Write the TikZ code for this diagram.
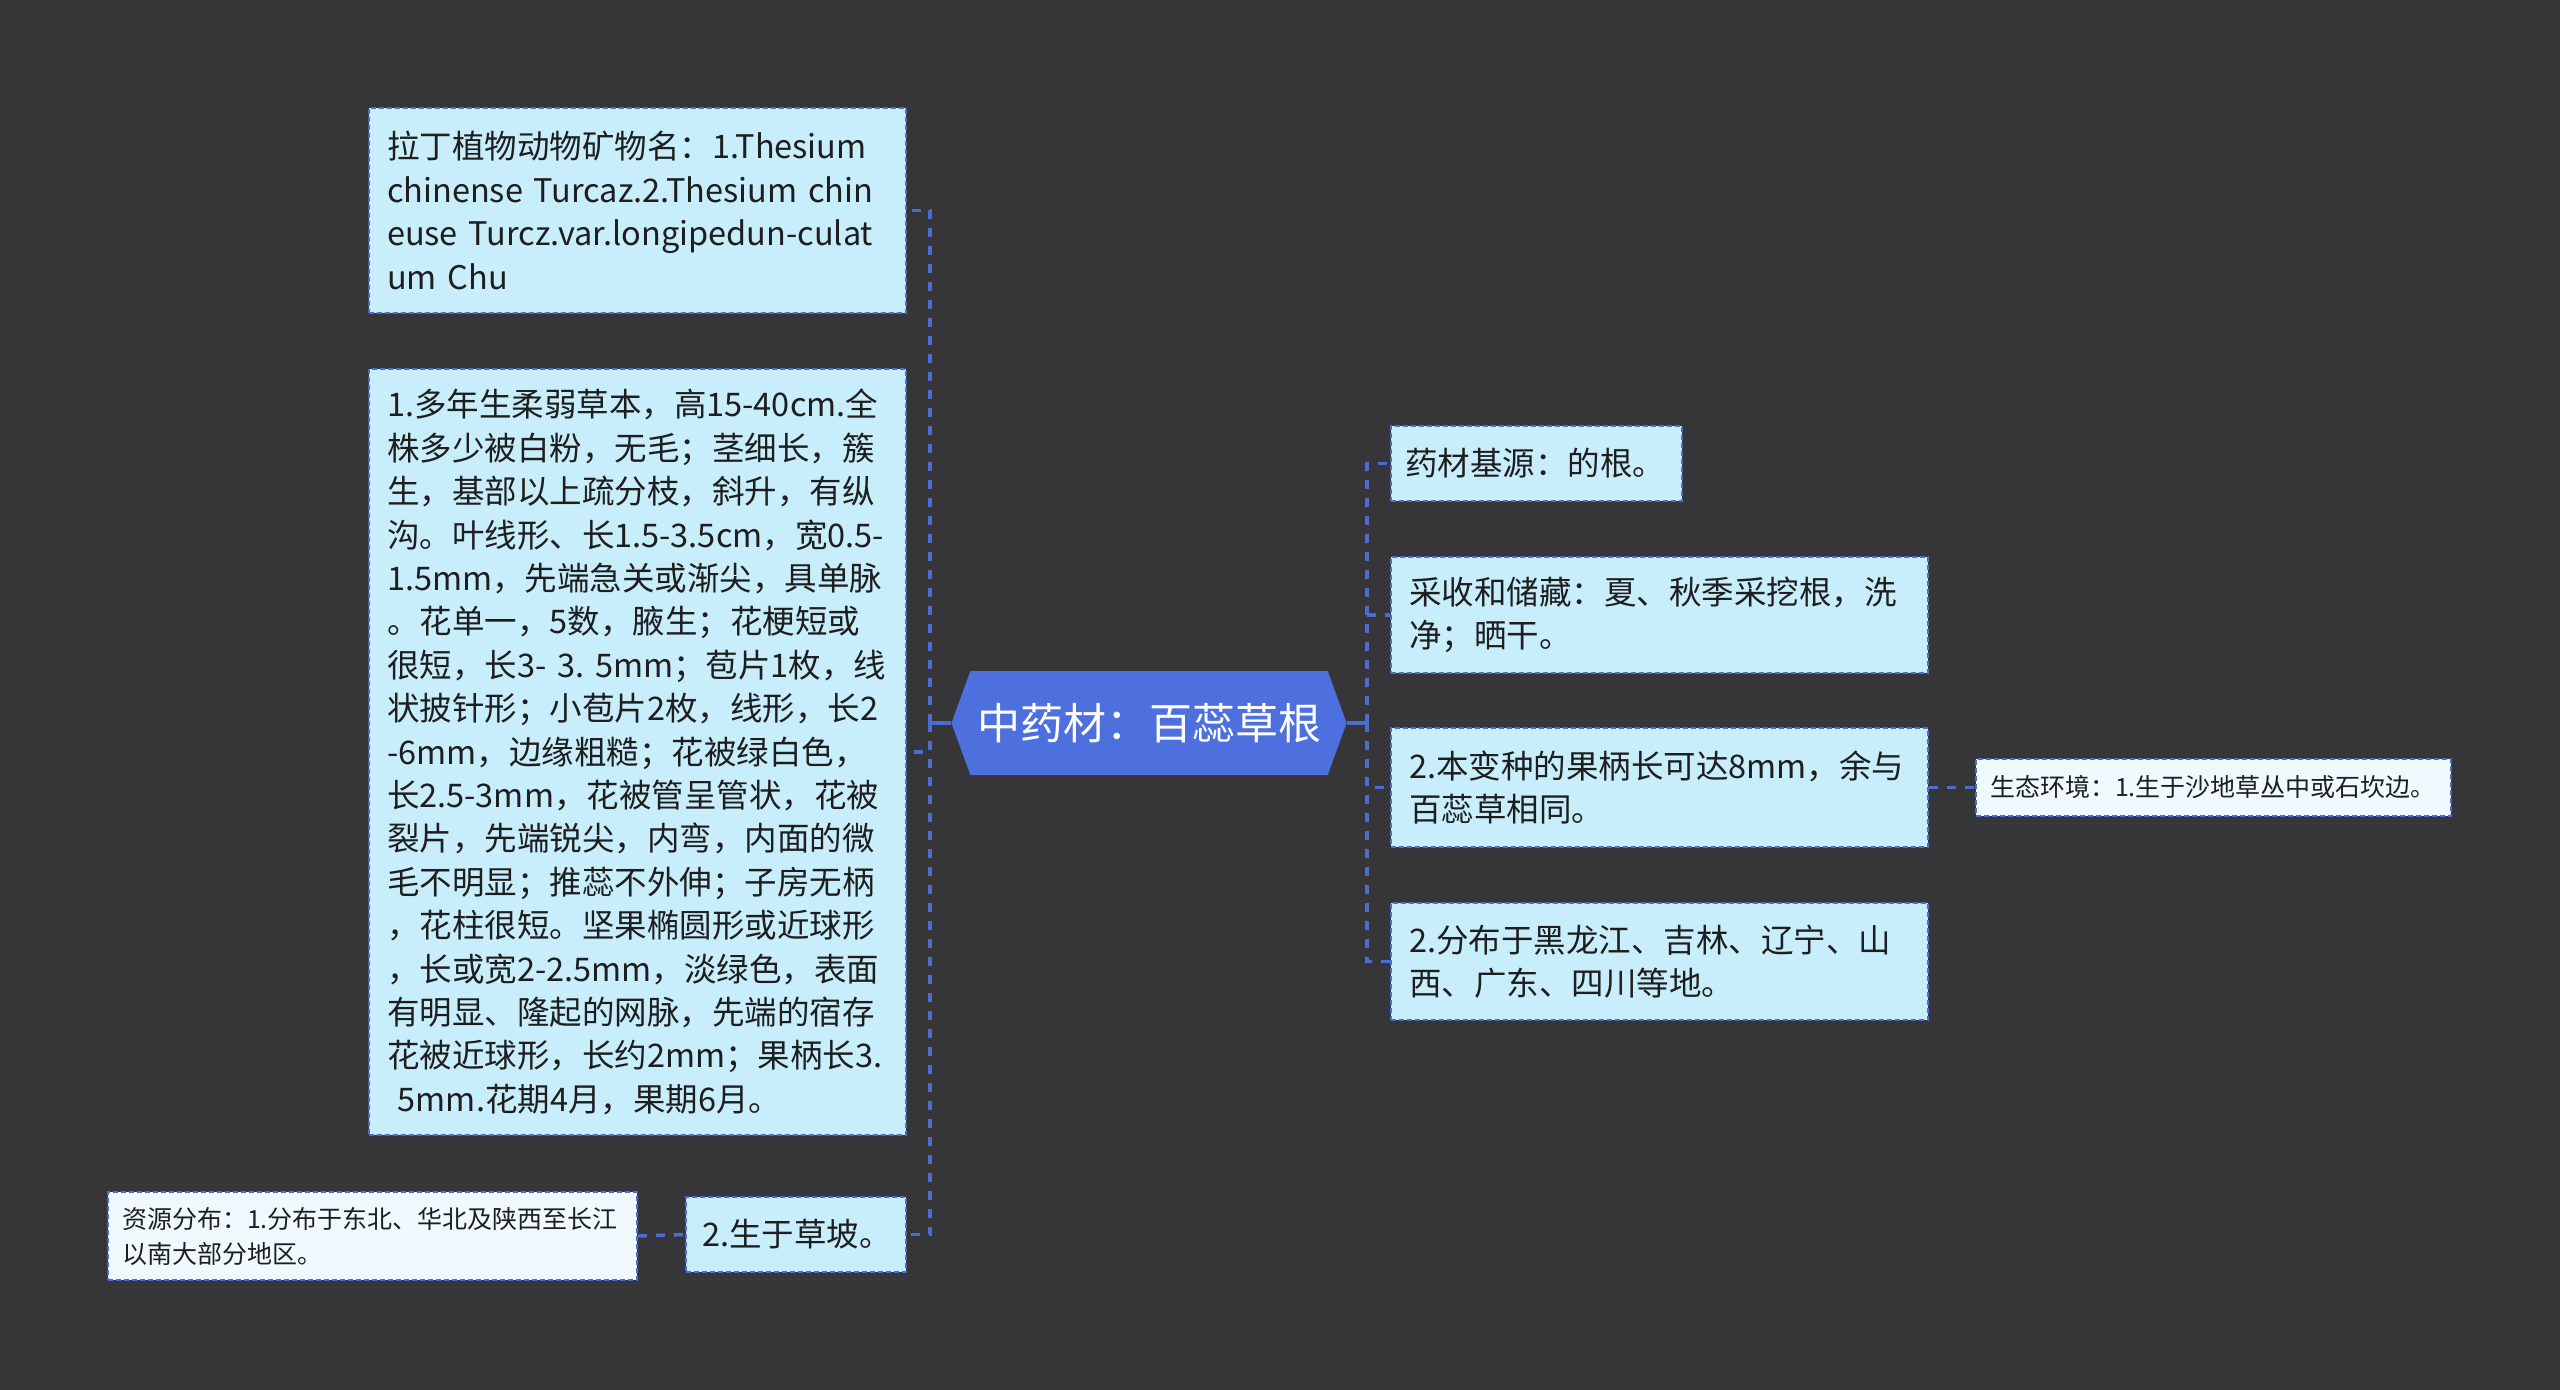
\documentclass[tikz,border=0pt]{standalone}
\usepackage{fontspec}
\setmainfont{Noto Sans CJK SC}
\usepackage{tikz}
\usetikzlibrary{shapes.symbols}
\definecolor{bg}{RGB}{54,53,55}
\definecolor{boxfill}{RGB}{200,238,252}
\definecolor{leaffill}{RGB}{240,250,254}
\definecolor{edge}{RGB}{74,108,212}
\definecolor{rootfill}{RGB}{77,112,222}
\definecolor{ink}{RGB}{30,30,30}

\begin{document}
\begin{tikzpicture}[x=0.5pt, y=-0.5pt,
    main/.style = {draw=edge, fill=boxfill, line width=0.8pt, dash pattern=on 2.5pt off 1.5pt, text=ink, align=left, inner xsep=9pt, font=\fontsize{16.25pt}{21.7pt}\selectfont},
    leaf/.style = {main, fill=leaffill, inner xsep=7pt, font=\fontsize{12.5pt}{17.5pt}\selectfont},
    root/.style = {signal, signal to=west and east, signal pointer angle=140, fill=rootfill, text=white, font=\fontsize{21.5pt}{26pt}\selectfont, minimum width=197pt, minimum height=52pt},
    link/.style = {draw=edge, line width=1.7pt, dash pattern=on 4.5pt off 4.5pt}]

    \fill[bg] (0,0) rectangle (2560,1390);

    \node[root] (0) at (1149,723) {中药材：百蕊草根};

    % left side
    \node[main, text width=250.5pt, minimum height=102.5pt] (1) at (637.5,210.5) {拉丁植物动物矿物名：1.Thesium\\chinense~Turcaz.2.Thesium~chin\\euse~Turcz.var.longipedun-culat\\um~Chu};
    \node[main, text width=250.5pt, minimum height=383pt] (2) at (637.5,752) {1.多年生柔弱草本，高15-40cm.全\\株多少被白粉，无毛；茎细长，簇\\生，基部以上疏分枝，斜升，有纵\\沟。叶线形、长1.5-3.5cm，宽0.5-\\1.5mm，先端急关或渐尖，具单脉\\。花单一，5数，腋生；花梗短或\\很短，长3-~3.~5mm；苞片1枚，线\\状披针形；小苞片2枚，线形，长2\\-6mm，边缘粗糙；花被绿白色，\\长2.5-3mm，花被管呈管状，花被\\裂片，先端锐尖，内弯，内面的微\\毛不明显；推蕊不外伸；子房无柄\\，花柱很短。坚果椭圆形或近球形\\，长或宽2-2.5mm，淡绿色，表面\\有明显、隆起的网脉，先端的宿存\\花被近球形，长约2mm；果柄长3.\\~5mm.花期4月，果期6月。};
    \node[main, inner xsep=8pt, text width=94pt, minimum height=37.5pt] (3) at (796,1234.5) {2.生于草坡。};
    \node[leaf, text width=250.5pt, minimum height=44pt] (4) at (372.5,1236) {资源分布：1.分布于东北、华北及陕西至长江\\以南大部分地区。};

    % right side
    \node[main, inner xsep=7pt, text width=131.5pt, minimum height=37.5pt] (5) at (1536.5,463.5) {药材基源：的根。};
    \node[main, text width=250.5pt, minimum height=58pt] (6) at (1659.5,615) {采收和储藏：夏、秋季采挖根，洗\\净；晒干。};
    \node[main, text width=250.5pt, minimum height=59.5pt] (7) at (1659.5,787.5) {2.本变种的果柄长可达8mm，余与\\百蕊草相同。};
    \node[main, text width=250.5pt, minimum height=58.5pt] (8) at (1659.5,961.5) {2.分布于黑龙江、吉林、辽宁、山\\西、广东、四川等地。};
    \node[leaf, text width=223.5pt, minimum height=28.5pt] (9) at (2213.5,787.5) {生态环境：1.生于沙地草丛中或石坎边。};

    \coordinate (tl) at (930,723);
    \coordinate (tr) at (1367,723);

    \draw[edge, line width=1.7pt] (0.west) -- (tl);
    \draw[edge, line width=1.7pt] (0.east) -- (tr);
    \draw[link] (tl) |- (1.east);
    \draw[link] (tl) |- (2.east);
    \draw[link] (tl) |- (3.east);
    \draw[link] (4.east) -- (3.west);
    \draw[link] (tr) |- (5.west);
    \draw[link] (tr) |- (6.west);
    \draw[link] (tr) |- (7.west);
    \draw[link] (tr) |- (8.west);
    \draw[link] (7.east) -- (9.west);

\end{tikzpicture}
\end{document}
